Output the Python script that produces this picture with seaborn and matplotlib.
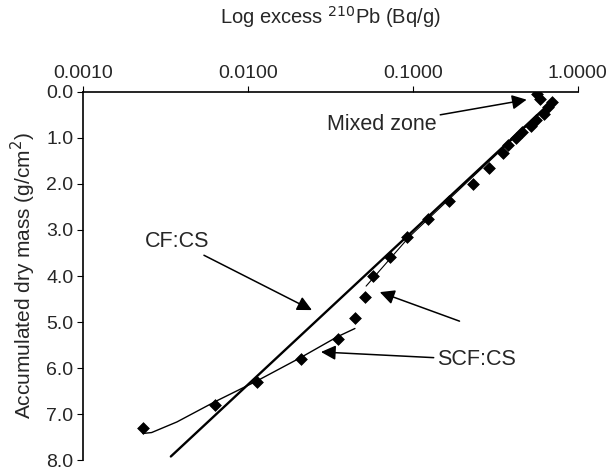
import seaborn as sns
import matplotlib.pyplot as plt
from matplotlib.ticker import FixedLocator, NullLocator

# measured points: excess 210Pb (Bq/g) vs accumulated dry mass (g/cm2)
pb_excess = [0.565, 0.59, 0.70, 0.66, 0.62, 0.56, 0.52, 0.46, 0.42, 0.38, 0.35,
             0.29, 0.23, 0.165, 0.124, 0.092, 0.073, 0.057, 0.051, 0.0445,
             0.035, 0.021, 0.0113, 0.0063, 0.0023]
dry_mass = [0.05, 0.15, 0.21, 0.33, 0.48, 0.62, 0.74, 0.87, 1.00, 1.15, 1.32,
            1.65, 2.00, 2.38, 2.77, 3.16, 3.58, 4.01, 4.45, 4.92,
            5.37, 5.81, 6.31, 6.80, 7.31]

# CF:CS model (straight line on log scale)
cf_pb = [0.70, 0.0034]
cf_mass = [0.20, 7.92]

# SCF:CS model, upper and lower sections
scf_upper_pb = [0.72, 0.215, 0.095, 0.052]
scf_upper_mass = [0.18, 1.95, 3.15, 4.22]
scf_lower_pb = [0.0445, 0.0348, 0.0209, 0.0113, 0.0063, 0.0037, 0.0026, 0.0023]
scf_lower_mass = [5.14, 5.32, 5.77, 6.28, 6.73, 7.17, 7.40, 7.42]

x_ticks = [0.001, 0.01, 0.1, 1.0]
x_labels = ['0.0010', '0.0100', '0.1000', '1.0000']
y_ticks = [0, 1, 2, 3, 4, 5, 6, 7, 8]

sns.set_style('white')
plt.rcParams['font.family'] = ['Liberation Sans', 'DejaVu Sans']

fig, ax = plt.subplots(figsize=(6.12, 4.71), dpi=100)
fig.subplots_adjust(left=0.136, right=0.944, top=0.805, bottom=0.023)

ax.set_xscale('log')

sns.lineplot(x=cf_pb, y=cf_mass, sort=False, estimator=None, color='black',
             lw=1.7, ax=ax, clip_on=False)
sns.lineplot(x=scf_upper_pb, y=scf_upper_mass, sort=False, estimator=None,
             color='black', lw=0.8, ax=ax)
sns.lineplot(x=scf_lower_pb, y=scf_lower_mass, sort=False, estimator=None,
             color='black', lw=1.0, ax=ax)
sns.scatterplot(x=pb_excess, y=dry_mass, marker='D', s=36, color='black',
                edgecolor='black', linewidth=0.5, ax=ax, zorder=5)

ax.set_xlim(0.001, 1.0)
ax.set_ylim(8.0, 0.0)

ax.xaxis.tick_top()
ax.xaxis.set_label_position('top')
ax.xaxis.set_major_locator(FixedLocator(x_ticks))
ax.xaxis.set_minor_locator(NullLocator())
ax.set_xticklabels(x_labels)
ax.set_yticks(y_ticks)
ax.set_yticklabels([f'{v:.1f}' for v in y_ticks])
ax.tick_params(axis='both', labelsize=14, length=4, width=0.8, color='black',
               direction='out', pad=3)
ax.tick_params(axis='x', top=True, bottom=False)
ax.tick_params(axis='y', left=True)

for side in ['right', 'bottom']:
    ax.spines[side].set_visible(False)
for side in ['top', 'left']:
    ax.spines[side].set_color('black')
    ax.spines[side].set_linewidth(1.2)

ax.set_xlabel('Log excess $^{210}$Pb (Bq/g)', fontsize=14.5, labelpad=30)
ax.set_ylabel('Accumulated dry mass (g/cm$^2$)', fontsize=15, labelpad=6)

arrow = dict(arrowstyle='-|>', color='black', lw=1.1, mutation_scale=22,
             shrinkA=0, shrinkB=0)
ax.annotate('Mixed zone', xy=(0.49, 0.17), xytext=(0.14, 0.72),
            fontsize=15.5, ha='right', va='center', arrowprops=arrow)
ax.annotate('CF:CS', xy=(0.0244, 4.74), xytext=(0.0058, 3.25),
            fontsize=15.5, ha='right', va='center', arrowprops=arrow)
ax.annotate('SCF:CS', xy=(0.063, 4.35), xytext=(0.1875, 5.28),
            fontsize=15.5, ha='left', va='center', alpha=0,
            arrowprops=dict(arrow, alpha=1))
ax.annotate('SCF:CS', xy=(0.0277, 5.65), xytext=(0.14, 5.82),
            fontsize=15.5, ha='left', va='center', arrowprops=arrow)

plt.savefig('out.png', dpi=100)
